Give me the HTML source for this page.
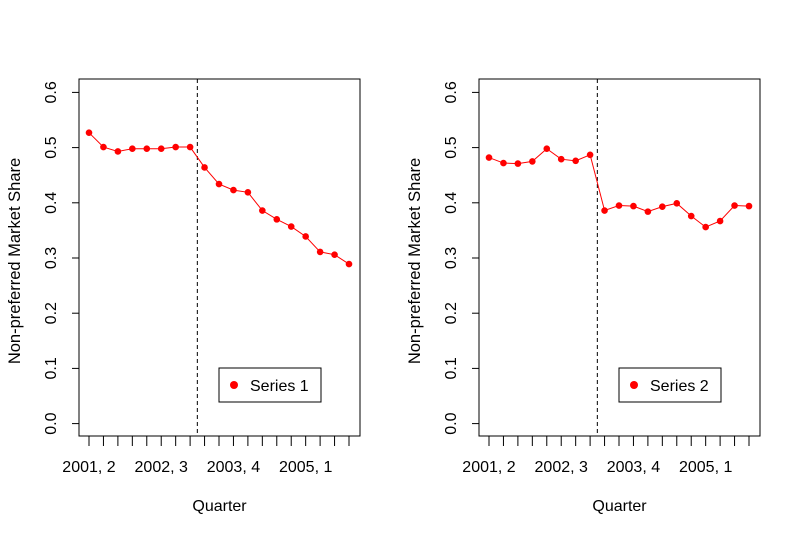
<!DOCTYPE html>
<html><head><meta charset="utf-8"><style>
body{margin:0;background:#fff}
svg text{font-family:"Liberation Sans",Arial,sans-serif;fill:#000}
</style></head><body>
<svg id="c" width="800" height="535" viewBox="0 0 800 535" xmlns="http://www.w3.org/2000/svg"></svg>
<script>
const quarterLabels=["2001, 2","2002, 3","2003, 4","2005, 1"];
const labelIndex=[0,5,10,15];
const yTicks=[0,0.1,0.2,0.3,0.4,0.5,0.6];
const series1=[0.527,0.501,0.493,0.498,0.498,0.498,0.501,0.501,0.464,0.434,0.423,0.419,0.386,0.370,0.357,0.339,0.311,0.306,0.289];
const series2=[0.482,0.472,0.471,0.475,0.498,0.479,0.476,0.487,0.386,0.395,0.394,0.384,0.393,0.399,0.376,0.356,0.367,0.395,0.394];
const breakIndex=7.5;
const svg=document.getElementById('c');
const NS='http://www.w3.org/2000/svg';
function mk(tag,attrs,parent,text){const e=document.createElementNS(NS,tag);for(const k in attrs)e.setAttribute(k,attrs[k]);if(text!==undefined)e.textContent=text;(parent||svg).appendChild(e);return e;}
function panel(off,data,name,label){
  const g=mk('g',{},svg);
  
  
  const L=79+off,R=360+off,T=79,B=436;
  const xs=i=>89+off+i*(260/18);
  const ys=v=>423.6-v*552;
  const box=mk('rect',{x:L,y:T,width:R-L,height:B-T,fill:'none',stroke:'#000','stroke-width':1},g);
  
  
  yTicks.forEach(v=>{
    const t=mk('line',{x1:L-7,x2:L,y1:ys(v),y2:ys(v),stroke:'#000'},g);
    
    
    const tx=mk('text',{x:0,y:0,'font-size':16,'text-anchor':'middle',transform:`translate(${L-23},${ys(v)}) rotate(-90)`},g,v.toFixed(1));
    
    
  });
  data.forEach((v,i)=>{
    const t=mk('line',{x1:xs(i),x2:xs(i),y1:B,y2:B+10,stroke:'#000'},g);
    
    
  });
  labelIndex.forEach((idx,k)=>{
    const tx=mk('text',{x:xs(idx),y:472,'font-size':16,'text-anchor':'middle'},g,quarterLabels[k]);
    
    
  });
  const yt=mk('text',{x:0,y:0,'font-size':16.5,'text-anchor':'middle',transform:`translate(${off+20},261) rotate(-90)`},g,'Non-preferred Market Share');
  
  
  const xt=mk('text',{x:(L+R)/2,y:511,'font-size':16,'text-anchor':'middle'},g,'Quarter');
  
  
  const dl=mk('line',{x1:xs(breakIndex),x2:xs(breakIndex),y1:T,y2:B,stroke:'#000','stroke-dasharray':'4,3'},g);
  
  
  const pl=mk('polyline',{points:data.map((v,i)=>xs(i)+','+ys(v)).join(' '),fill:'none',stroke:'#f00','stroke-width':1},g);
  
  
  data.forEach((v,i)=>{
    const c=mk('circle',{cx:xs(i),cy:ys(v),r:3.3,fill:'#f00'},g);
    
    
  });
  const lg=mk('g',{},g);
  
  
  mk('rect',{x:219+off,y:368,width:102,height:34,fill:'#fff',stroke:'#000'},lg);
  mk('circle',{cx:234+off,cy:385,r:4,fill:'#f00'},lg);
  const lt=mk('text',{x:250+off,y:391,'font-size':16},lg,label);
  
  
}
panel(0,series1,'series-1','Series 1');
panel(400,series2,'series-2','Series 2');
</script>
</body></html>
